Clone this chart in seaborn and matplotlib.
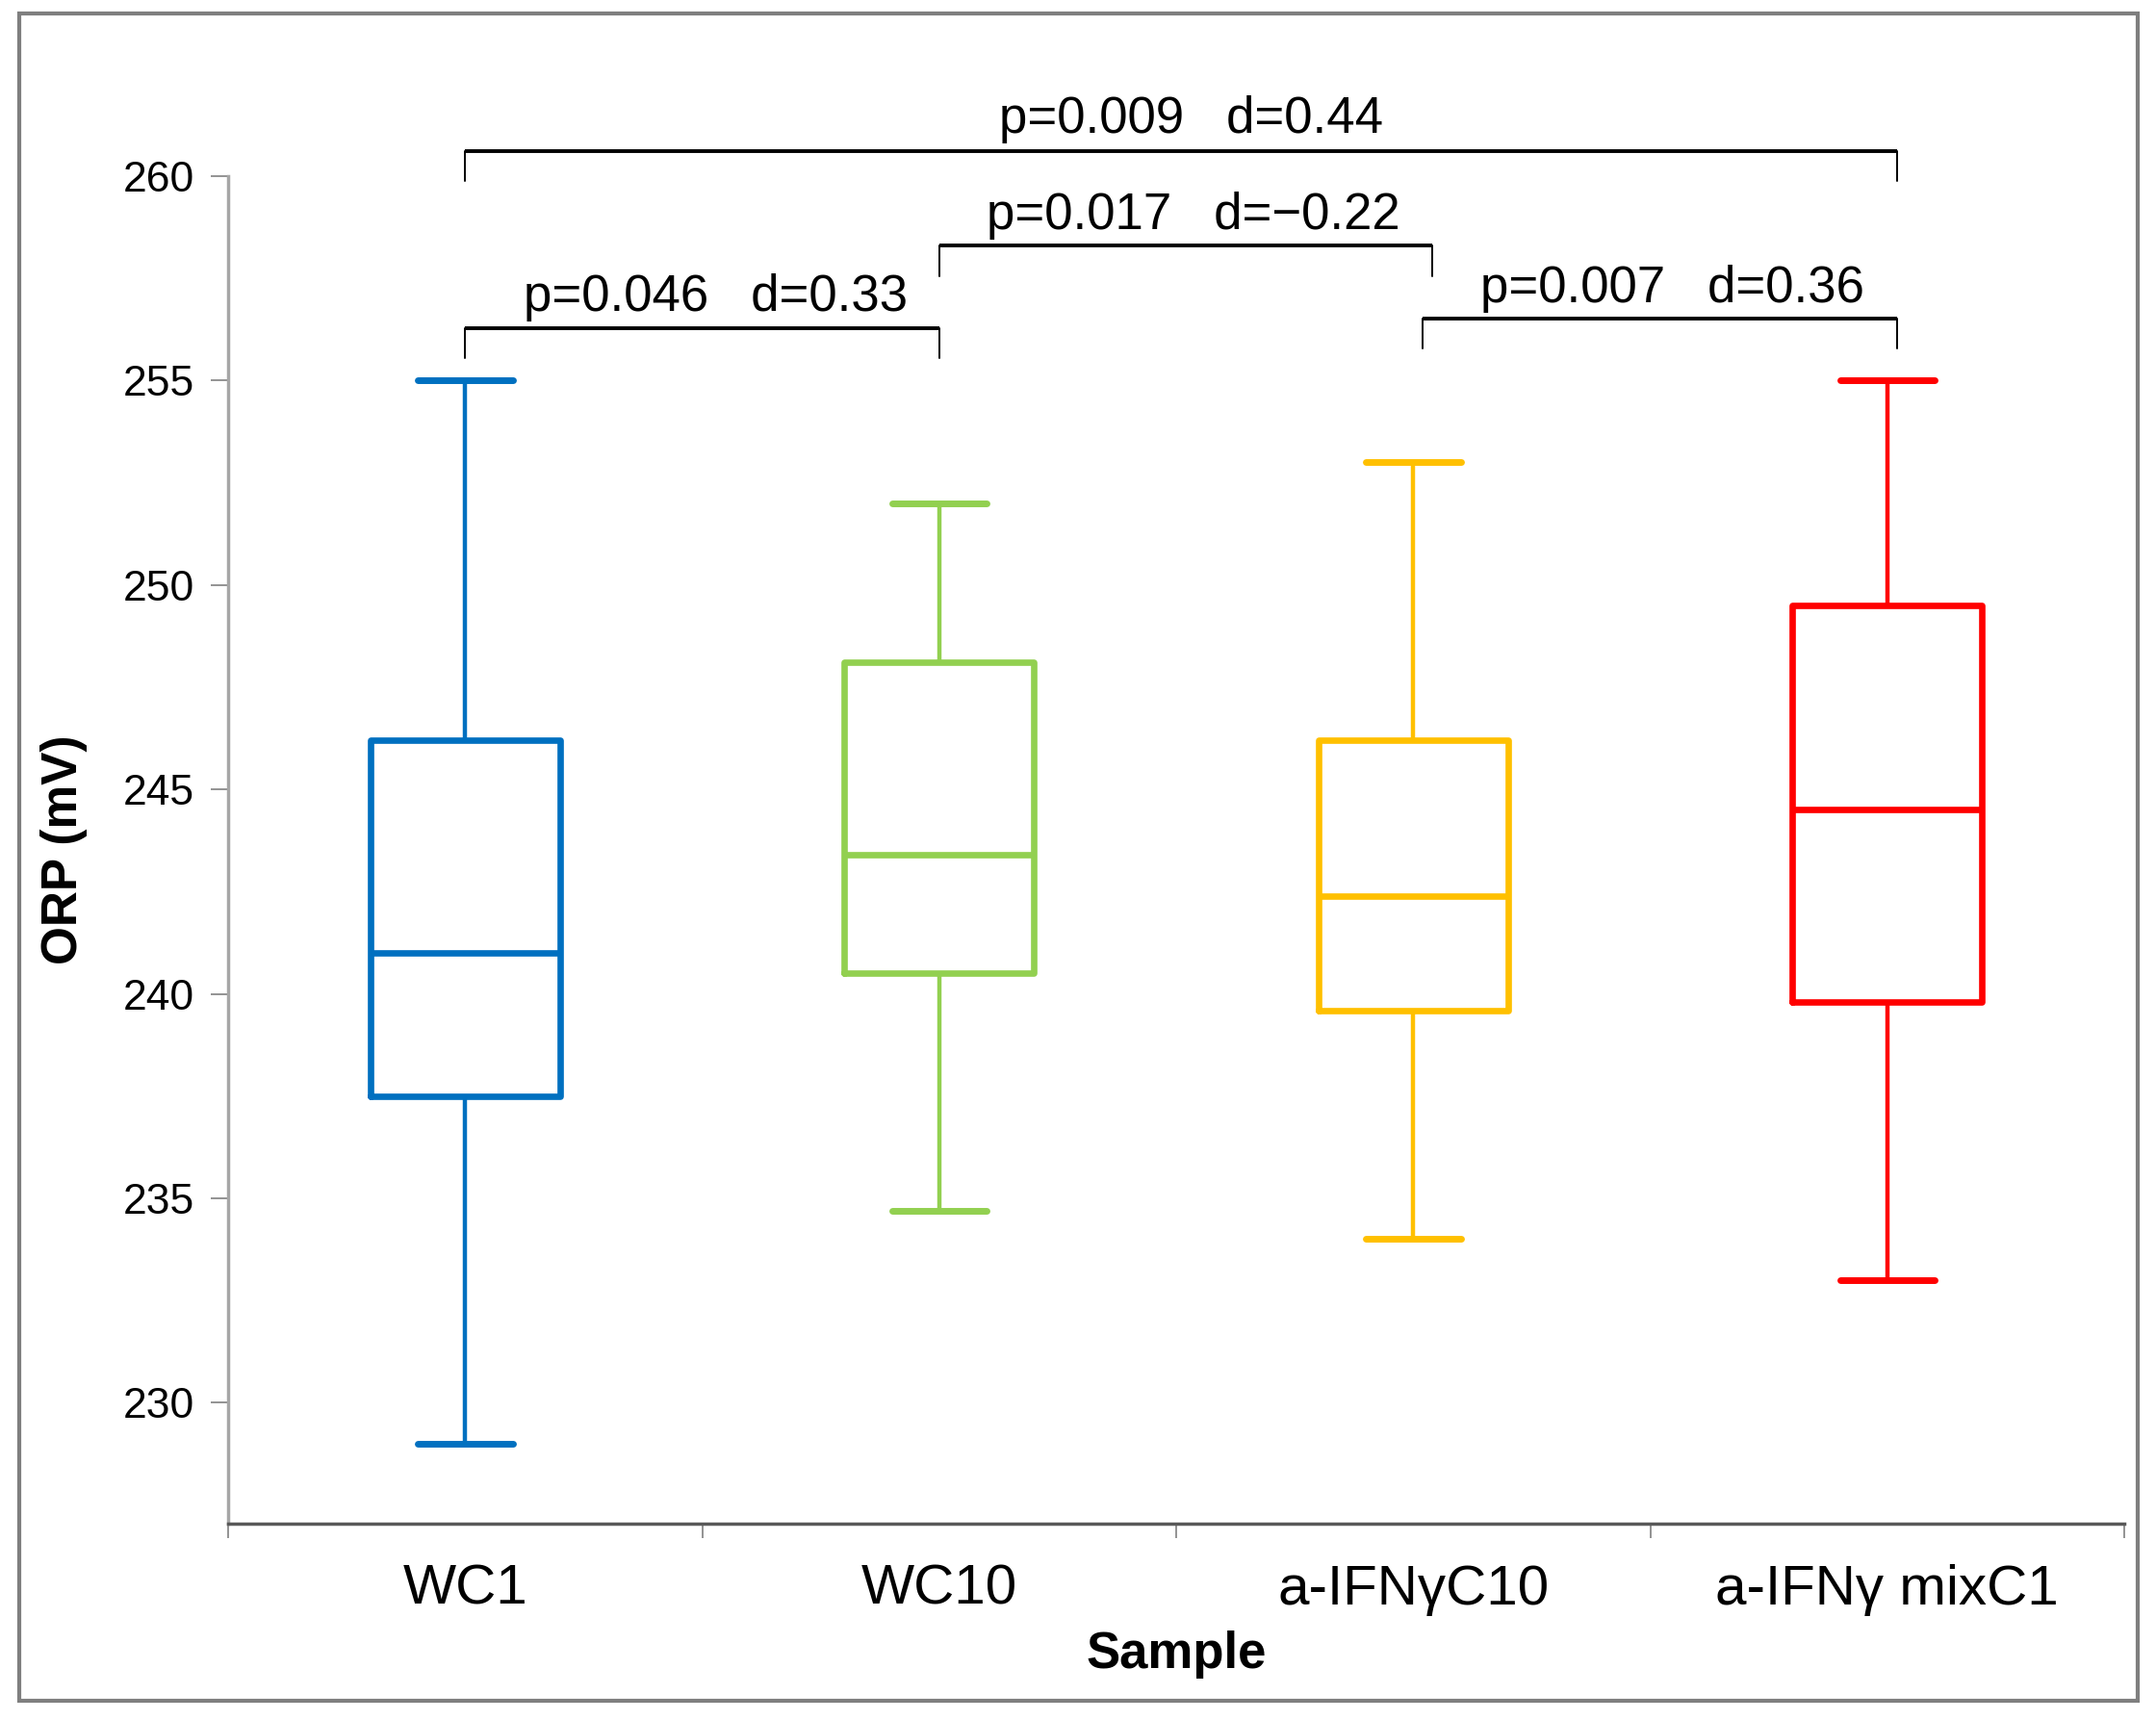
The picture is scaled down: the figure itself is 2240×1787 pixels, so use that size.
import numpy as np
import pandas as pd
import matplotlib
matplotlib.use("Agg")
import matplotlib.pyplot as plt
import seaborn as sns
from matplotlib.patches import Rectangle

# Datos: [min, Q1, mediana, Q3, max] por muestra
samples = ["WC1", "WC10", "a-IFNγC10", "a-IFNγ mixC1"]
wc1 = [229.0, 237.5, 241.0, 246.2, 255.0]
wc10 = [234.7, 240.5, 243.4, 248.1, 252.0]
ifn_c10 = [234.0, 239.6, 242.4, 246.2, 253.0]
ifn_mix = [233.0, 239.8, 244.5, 249.5, 255.0]
colors = ["#0070C0", "#92D050", "#FFC000", "#FF0000"]

# Comparaciones: (desde, hasta, texto)
comparaciones = [
    (0, 3, "p=0.009   d=0.44"),
    (1, 2, "p=0.017   d=\u22120.22"),
    (0, 1, "p=0.046   d=0.33"),
    (2, 3, "p=0.007   d=0.36"),
]

df = pd.DataFrame({
    "Sample": np.repeat(samples, 5),
    "ORP": wc1 + wc10 + ifn_c10 + ifn_mix,
})

sns.set_style("white")
plt.rcParams["font.family"] = ["Liberation Sans", "DejaVu Sans"]
plt.rcParams["text.color"] = "black"
plt.rcParams["axes.labelcolor"] = "black"
plt.rcParams["xtick.labelcolor"] = "black"
plt.rcParams["ytick.labelcolor"] = "black"

fig = plt.figure(figsize=(22.4, 17.87), dpi=100)
ax = fig.add_axes([237 / 2240, 1 - 1583 / 1787, 1970 / 2240, 1400 / 1787])

sns.boxplot(data=df, x="Sample", y="ORP", hue="Sample", order=samples,
            hue_order=samples, palette=colors, fill=False, width=0.4,
            whis=np.inf, linewidth=4.8, legend=False,
            whiskerprops={"linewidth": 3.2}, capprops={"linewidth": 5},
            ax=ax)

ax.set_xlim(-0.5, 3.5)
ax.set_ylim(227.04, 260)
ax.set_yticks(np.arange(230, 261, 5))
ax.tick_params(axis="y", labelsize=32, length=13, width=1.2, color="#808080",
               pad=12, left=True)
ax.tick_params(axis="x", which="major", labelsize=42, length=0, pad=30)
ax.set_xticks(np.arange(-0.5, 3.6, 1), minor=True)
ax.tick_params(axis="x", which="minor", length=11, width=1.2, color="#808080",
               bottom=True)

for s in ["top", "right"]:
    ax.spines[s].set_visible(False)
ax.spines["left"].set_color("#A6A6A6")
ax.spines["left"].set_linewidth(2.5)
ax.spines["bottom"].set_color("#595959")
ax.spines["bottom"].set_linewidth(2.5)

ax.set_xlabel("Sample", fontsize=38, fontweight="bold")
ax.set_ylabel("ORP (mV)", fontsize=37, fontweight="bold")
ax.xaxis.set_label_coords(0.5, -0.079)
ax.yaxis.set_label_coords(-0.074, 0.5)

# Corchetes de significacion
alturas = {(0, 3): (260.62, 259.88, 261.06, 1.531),
           (1, 2): (258.30, 257.55, 258.70, 1.537),
           (0, 1): (256.28, 255.55, 256.70, 0.528),
           (2, 3): (256.52, 255.79, 256.92, 2.546)}
ajuste = {(0, 3): (0.0, 0.02), (1, 2): (0.0, 0.04),
          (0, 1): (0.0, 0.0), (2, 3): (0.02, 0.02)}
for a, b, txt in comparaciones:
    top, low, base, xt = alturas[(a, b)]
    x0 = a + ajuste[(a, b)][0]
    x1 = b + ajuste[(a, b)][1]
    ax.plot([x0, x1], [top, top], color="black", lw=2.8, clip_on=False,
            solid_capstyle="butt")
    ax.plot([x0, x0], [top, low], color="black", lw=1.4, clip_on=False)
    ax.plot([x1, x1], [top, low], color="black", lw=1.4, clip_on=False)
    ax.text(xt, base, txt, fontsize=38, ha="center", va="baseline",
            clip_on=False)

# Marco exterior
fig.patches.append(Rectangle((20 / 2240, 1 - 1767 / 1787), 2201 / 2240,
                             1753 / 1787, transform=fig.transFigure,
                             fill=False, edgecolor="#7F7F7F", lw=3))

plt.savefig("out.png", dpi=100)
